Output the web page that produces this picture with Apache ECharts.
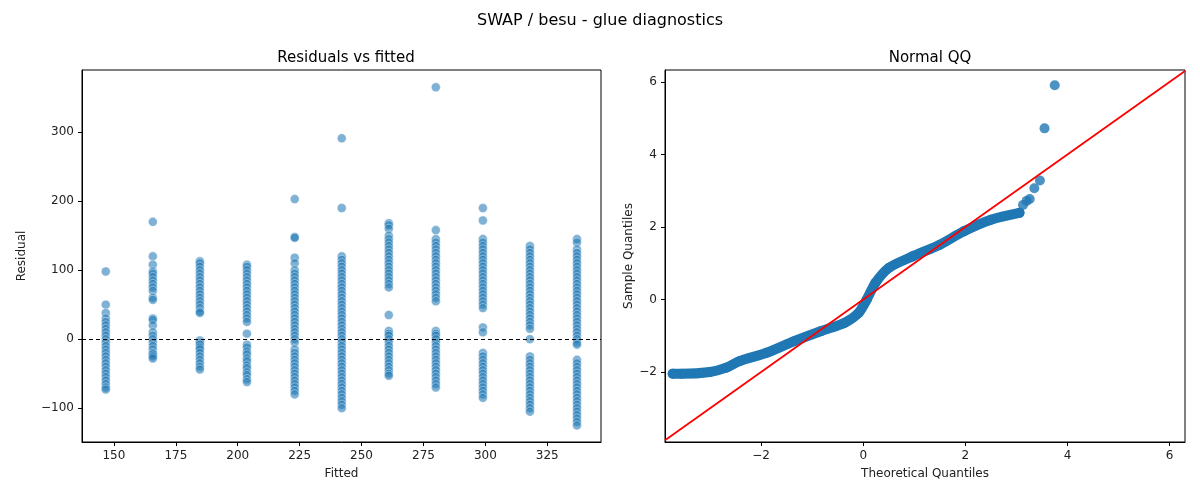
<!DOCTYPE html>
<html>
<head>
<meta charset="utf-8">
<script src="https://cdn.jsdelivr.net/npm/echarts@6/dist/echarts.min.js"></script>
<style>html,body{margin:0;padding:0;background:#fff}#chart{width:1200px;height:500px}</style>
</head>
<body>
<div id="chart"></div>
<script>
// fitted values (one column of residuals per fitted value)
var fitted = [146.7, 165.7, 184.7, 203.7, 223, 242, 261, 280, 299, 318, 337];
var residuals = [
	[98,50,38,30,25,20,15,10,5,0,-5,-10,-15,-20,-25,-30,-35,-40,-45,-50,-55,-60,-65,-70,-73],
	[170,120,108,98,95,90,85,80,75,70,60,57,30,28,20,10,5,0,-5,-10,-15,-20,-22,-25,-28],
	[113,110,105,100,95,90,85,80,75,70,65,60,55,50,45,40,38,-2,-5,-8,-12,-15,-20,-25,-30,-35,-40,-44],
	[108,105,100,95,90,85,80,75,70,65,60,55,50,45,40,35,30,25,8,-8,-12,-18,-22,-28,-32,-38,-42,-48,-52,-58,-62],
	[203,148,147,118,110,100,95,90,85,80,75,70,65,60,55,50,45,40,35,30,25,20,15,10,5,0,-5,-15,-20,-25,-30,-35,-40,-45,-50,-55,-60,-65,-70,-75,-80],
	[291,190,120,115,110,105,100,95,90,85,80,75,70,65,60,55,50,45,40,35,30,25,20,15,10,5,0,-5,-10,-15,-20,-25,-30,-35,-40,-45,-50,-55,-60,-65,-70,-75,-80,-85,-90,-95,-100],
	[168,165,160,150,145,140,135,130,125,120,115,110,105,100,95,90,85,80,75,35,12,8,5,0,-5,-10,-15,-20,-25,-30,-35,-40,-45,-50,-53],
	[365,158,145,140,135,130,125,120,115,110,105,100,95,90,85,80,75,70,65,60,55,12,8,5,0,-5,-10,-15,-20,-25,-30,-35,-40,-45,-50,-55,-60,-65,-70],
	[190,172,145,140,135,130,125,120,115,110,105,100,95,90,85,80,75,70,65,60,55,50,45,17,10,-20,-25,-30,-35,-40,-45,-50,-55,-60,-65,-70,-75,-80,-85],
	[135,130,125,120,115,110,105,100,95,90,85,80,75,70,65,60,55,50,45,40,35,30,25,20,15,0,-25,-30,-35,-40,-45,-50,-55,-60,-65,-70,-75,-80,-85,-90,-95,-100,-105],
	[145,140,130,125,120,115,110,105,100,95,90,85,80,75,70,65,60,55,50,45,40,35,30,25,20,15,10,5,0,-5,-8,-30,-35,-40,-45,-50,-55,-60,-65,-70,-75,-80,-85,-90,-95,-100,-105,-110,-115,-120,-125]
];
var fittedTicks = [150, 175, 200, 225, 250, 275, 300, 325];
var residTicks = [-100, 0, 100, 200, 300];
var qqTicks = [-2, 0, 2, 4, 6];
// normal QQ points
var theoQ = [-3.73,-3.55,-3.0,-2.68,-2.42,-1.89,-1.35,-0.82,-0.36,-0.09,0.07,0.24,0.5,0.97,1.5,1.97,2.5,3.06];
var sampQ = [-2.05,-2.05,-2.0,-1.88,-1.7,-1.47,-1.15,-0.87,-0.64,-0.37,0,0.46,0.87,1.19,1.51,1.88,2.2,2.39];
var tailTheo = [3.13,3.2,3.26,3.35,3.46,3.55,3.75];
var tailSamp = [2.61,2.72,2.77,3.07,3.28,4.72,5.91];
var refLine = [-3.88, 6.3];

var scatterData = [];
for (var i = 0; i < fitted.length; i++) {
	for (var j = 0; j < residuals[i].length; j++) {
		scatterData.push([fitted[i], residuals[i][j]]);
	}
}
var qqData = [];
for (var k = 0; k < theoQ.length; k++) qqData.push([theoQ[k], sampQ[k]]);
var tailData = [];
for (var k = 0; k < tailTheo.length; k++) tailData.push([tailTheo[k], tailSamp[k]]);

var font = "DejaVu Sans";
function minus(v) { return String(v).replace("-", "\u2212"); }
function ax(extra, ticks) {
	return Object.assign({
		type: "value",
		axisLine: {onZero: false, lineStyle: {color: "#000"}},
		axisTick: {length: 4, lineStyle: {color: "#000"}, customValues: ticks},
		axisLabel: {color: "#222", fontSize: 12, fontFamily: font, customValues: ticks, formatter: minus},
		splitLine: {show: false},
		nameLocation: "middle",
		nameTextStyle: {color: "#222", fontSize: 12, fontFamily: font}
	}, extra);
}

var myChart = echarts.init(document.getElementById("chart"));
var option = {
	animation: false,
	title: [
		{text: "SWAP / besu - glue diagnostics", left: "center", top: 8, textStyle: {fontSize: 16, fontWeight: "normal", fontFamily: font, color: "#000"}},
		{text: "Residuals vs fitted", left: 341, textAlign: "center", top: 46, textStyle: {fontSize: 15, fontWeight: "normal", fontFamily: font, color: "#000"}},
		{text: "Normal QQ", left: 925, textAlign: "center", top: 46, textStyle: {fontSize: 15, fontWeight: "normal", fontFamily: font, color: "#000"}}
	],
	grid: [
		{left: 82, width: 519, top: 70, height: 372, show: true, borderColor: "#000", borderWidth: 1},
		{left: 665, width: 520, top: 70, height: 372, show: true, borderColor: "#000", borderWidth: 1}
	],
	xAxis: [
		ax({gridIndex: 0, min: 137.1, max: 346.7, name: "Fitted", nameGap: 26}, fittedTicks),
		ax({gridIndex: 1, min: -3.88, max: 6.3, name: "Theoretical Quantiles", nameGap: 26}, qqTicks)
	],
	yAxis: [
		ax({gridIndex: 0, min: -149, max: 390, name: "Residual", nameGap: 54}, residTicks),
		ax({gridIndex: 1, min: -3.93, max: 6.33, name: "Sample Quantiles", nameGap: 30}, qqTicks)
	],
	series: [
		{type: "scatter", xAxisIndex: 0, yAxisIndex: 0, data: scatterData, symbolSize: 9,
			itemStyle: {color: "rgba(31,119,180,0.72)", borderColor: "rgba(255,255,255,0.8)", borderWidth: 0.6},
			markLine: {silent: true, symbol: "none", label: {show: false},
				lineStyle: {color: "#000", type: [4, 3], width: 1}, data: [{yAxis: 0}]}},
		{type: "line", xAxisIndex: 1, yAxisIndex: 1, data: qqData, smooth: 0.3, symbol: "circle", symbolSize: 10,
			lineStyle: {color: "#1f77b4", width: 10, cap: "round", join: "round"}, itemStyle: {color: "#1f77b4"}},
		{type: "scatter", xAxisIndex: 1, yAxisIndex: 1, data: tailData, symbolSize: 10, itemStyle: {color: "#1f77b4"}},
		{type: "line", xAxisIndex: 1, yAxisIndex: 1, data: [[refLine[0], refLine[0]], [refLine[1], refLine[1]]],
			symbol: "none", lineStyle: {color: "#ff0000", width: 1.8}, z: 5}
	]
};
myChart.setOption(option);
</script>
</body>
</html>
